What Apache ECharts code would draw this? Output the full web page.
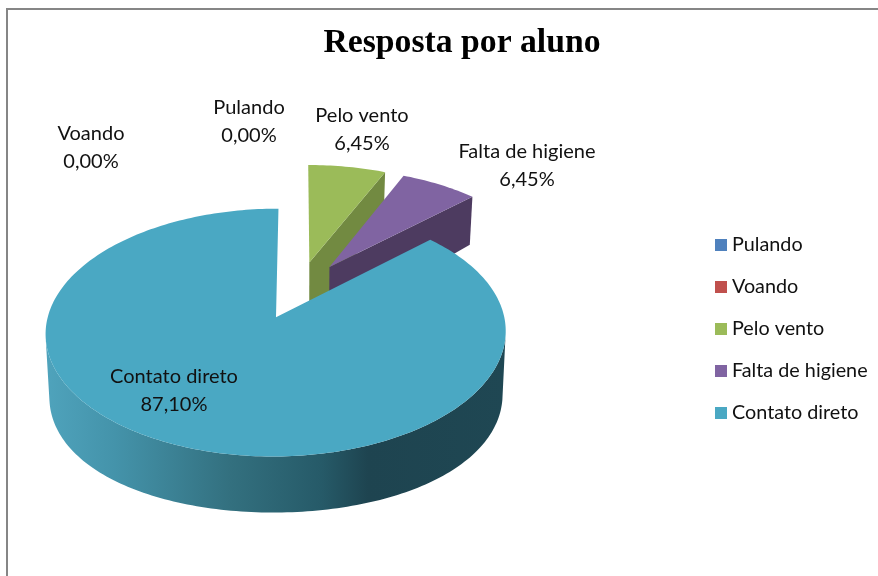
<!DOCTYPE html>
<html>
<head>
<meta charset="utf-8">
<title>Resposta por aluno</title>
<script src="https://cdn.jsdelivr.net/npm/echarts@6/dist/echarts.min.js"></script>
<style>
	html, body { margin: 0; padding: 0; background: #fff; }
	#main { width: 878px; height: 576px; }
</style>
</head>
<body>
<div id="main"></div>
<script>
const categories = ['Pulando', 'Voando', 'Pelo vento', 'Falta de higiene', 'Contato direto'];
const percentValues = [0, 0, 6.45, 6.45, 87.10];
const topColors = ['#4F81BD', '#C0504D', '#9BBB59', '#8064A2', '#4AA8C3'];
const faceColors = ['#3A5F8B', '#8E3B39', '#728A41', '#4D3B60', '#1F4753'];
// centre of the text block of each data label
const labelCenters = [[249, 122], [91, 148], [362, 130], [527, 166], [174, 391]];

// perspective pie: plane units are pie radii, z runs away from the viewer
const pie = { cx: 298.5, cy: 290, rx: 222, ry: 115.4, persp: 0.12, explode: 0.25 };
const total = percentValues.reduce((a, b) => a + b, 0);

function project(x, z) {
	let w = 1 + pie.persp * z;
	return [pie.cx + pie.rx * x / w, pie.cy - pie.ry * z / w];
}
function lower(p) {
	let dy = p[1] - 333;
	let drop = 63 + 0.0231 * dy - 0.000641 * dy * dy;
	return [pie.cx + (p[0] - pie.cx) * 0.985, p[1] + drop];
}
function sliceAngles(index) {
	let before = percentValues.slice(0, index).reduce((a, b) => a + b, 0);
	return [before / total * Math.PI * 2, (before + percentValues[index]) / total * Math.PI * 2];
}
function percentText(v) {
	return v.toFixed(2).replace('.', ',') + '%';
}

function renderSlice(index) {
	let children = [];
	let [a0, a1] = sliceAngles(index);
	if (a1 > a0) {
		let mid = (a0 + a1) / 2;
		let ox = Math.sin(mid) * pie.explode;
		let oz = Math.cos(mid) * pie.explode;
		let apex = project(ox, oz);
		let rim = [];
		let front = [];
		let steps = Math.ceil((a1 - a0) / 0.02);
		for (let i = 0; i <= steps; i++) {
			let a = a0 + (a1 - a0) * i / steps;
			let p = project(ox + Math.sin(a), oz + Math.cos(a));
			rim.push(p);
			if (Math.cos(a) < -0.15) front.push(p);
		}
		let last = rim[rim.length - 1];
		// cut face, only where the slice does not end back at the top of the pie
		if (Math.sin(a1) > 0.01) {
			children.push({
				type: 'polygon',
				shape: { points: [apex, last, lower(last), lower(apex)] },
				style: { fill: faceColors[index] }
			});
		}
		if (front.length > 1) {
			children.push({
				type: 'polygon',
				shape: { points: front.concat(front.map(lower).reverse()) },
				style: {
					fill: {
						type: 'linear', global: true, x: 46, y: 0, x2: 506, y2: 0,
						colorStops: [
							{ offset: 0, color: '#4FA3BC' },
							{ offset: 0.15, color: '#4493AA' },
							{ offset: 0.4, color: '#33707F' },
							{ offset: 0.6, color: '#265A68' },
							{ offset: 0.7, color: '#1E4450' },
							{ offset: 1, color: '#1F4753' }
						]
					}
				}
			});
		}
		children.push({ type: 'polygon', shape: { points: [apex].concat(rim) }, style: { fill: topColors[index] } });
	}
	children.push({
		type: 'text',
		x: labelCenters[index][0],
		y: labelCenters[index][1],
		style: {
			text: categories[index] + '\n' + percentText(percentValues[index]),
			font: '20px Lato',
			lineHeight: 28,
			fill: '#111',
			align: 'center',
			verticalAlign: 'middle'
		}
	});
	return { type: 'group', children: children };
}

let myChart = echarts.init(document.getElementById('main'), null, { renderer: 'canvas' });
let option = {
	animation: false,
	backgroundColor: '#fff',
	title: {
		text: 'Resposta por aluno',
		left: 457,
		top: 21,
		textAlign: 'center',
		textStyle: { fontFamily: 'Liberation Serif', fontWeight: 'bold', fontSize: 33.7, color: '#000' }
	},
	legend: {
		orient: 'vertical',
		left: 710,
		top: 229,
		itemWidth: 12,
		itemHeight: 12,
		itemGap: 20,
		icon: 'rect',
		data: categories,
		textStyle: { fontFamily: 'Lato', fontSize: 19.8, color: '#111', height: 22, lineHeight: 22 }
	},
	graphic: [{
		type: 'polyline',
		shape: { points: [[7, 576], [7, 9], [878, 9]] },
		style: { stroke: '#868686', lineWidth: 2, fill: null }
	}],
	series: categories.map((name, index) => ({
		type: 'custom',
		name: name,
		coordinateSystem: 'none',
		itemStyle: { color: topColors[index] },
		data: [percentValues[index]],
		renderItem: () => renderSlice(index)
	}))
};
myChart.setOption(option);
</script>
</body>
</html>
